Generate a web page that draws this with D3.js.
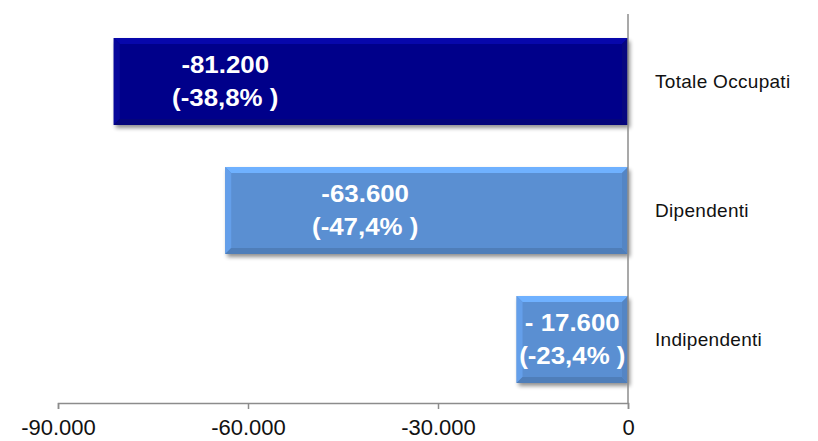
<!DOCTYPE html>
<html>
<head>
<meta charset="utf-8">
<script src="https://cdn.jsdelivr.net/npm/d3@7"></script>
<style>
	body { margin: 0; background: #fff; }
	svg { display: block; font-family: "Liberation Sans", Arial, sans-serif; }
</style>
</head>
<body>
<svg id="chart" width="818" height="441"></svg>
<script>

// data
var categories = ["Totale Occupati", "Dipendenti", "Indipendenti"];
var values = [-81200, -63600, -17600];
var valueLabels = ["-81.200", "-63.600", "- 17.600"];
var percentLabels = ["(-38,8% )", "(-47,4% )", "(-23,4% )"];
var tickValues = [-90000, -60000, -30000, 0];
var tickLabels = ["-90.000", "-60.000", "-30.000", "0"];

// layout
var barColors = ["#06068a", "#5a8fd2"];
var labelCenters = [-63600, -41500, null];	// null -> middle of bar

var svg = d3.select("#chart");

var x = d3.scaleLinear()
	.domain([-90000, 0])
	.range([58, 628]);

var y = d3.scaleBand()
	.domain(categories)
	.range([17, 404])
	.paddingInner(0.326)
	.paddingOuter(0.163);

var defs = svg.append("defs");
var shadow = defs.append("filter")
	.attr("id", "shadow")
	.attr("x", "-10%").attr("y", "-10%")
	.attr("width", "130%").attr("height", "140%");
shadow.append("feGaussianBlur").attr("in", "SourceAlpha").attr("stdDeviation", 2.2);
shadow.append("feOffset").attr("dx", 2).attr("dy", 3).attr("result", "blur");
shadow.append("feComponentTransfer").append("feFuncA").attr("type", "linear").attr("slope", 0.45);
var merge = shadow.append("feMerge");
merge.append("feMergeNode");
merge.append("feMergeNode").attr("in", "SourceGraphic");

// bars with a bevel
var bars = svg.selectAll("g.bar")
	.data(categories)
	.enter()
	.append("g")
		.attr("class", "bar");

bars.each(function(d, i){
	var g = d3.select(this);
	var x0 = x(values[i]);
	var x1 = x(0);
	var y0 = y(d);
	var h = y.bandwidth();
	var b = 6;
	var base = d3.color(i == 0 ? barColors[0] : barColors[1]);

	g.append("rect")
		.attr("x", x0).attr("y", y0)
		.attr("width", x1 - x0).attr("height", h)
		.attr("fill", base)
		.attr("filter", "url(#shadow)");

	// top edge
	g.append("polygon")
		.attr("points", [[x0, y0], [x1, y0], [x1 - b, y0 + b], [x0 + b, y0 + b]].join(" "))
		.attr("fill", base.brighter(0.6));
	// left edge
	g.append("polygon")
		.attr("points", [[x0, y0], [x0 + b, y0 + b], [x0 + b, y0 + h - b], [x0, y0 + h]].join(" "))
		.attr("fill", base.brighter(0.3));
	// bottom edge
	g.append("polygon")
		.attr("points", [[x0, y0 + h], [x0 + b, y0 + h - b], [x1 - b, y0 + h - b], [x1, y0 + h]].join(" "))
		.attr("fill", base.darker(0.35));
	// right edge
	g.append("polygon")
		.attr("points", [[x1, y0], [x1, y0 + h], [x1 - b, y0 + h - b], [x1 - b, y0 + b]].join(" "))
		.attr("fill", base.darker(0.2));

	var cx = labelCenters[i] == null ? (x0 + x1) / 2 : x(labelCenters[i]);
	var lines = [valueLabels[i], percentLabels[i]];
	var offsets = [-8.5, 24.5];
	lines.forEach(function(line, k){
		g.append("text")
			.attr("transform", "translate(" + cx + "," + (y0 + h / 2 + offsets[k]) + ") scale(1.1,1)")
			.attr("text-anchor", "middle")
			.attr("fill", "#fff")
			.attr("font-weight", "bold")
			.attr("font-size", 23.5)
			.text(line);
	});
});

// category labels
svg.selectAll("text.cat")
	.data(categories)
	.enter()
	.append("text")
		.attr("class", "cat")
		.attr("x", 655)
		.attr("y", function(d){ return y(d) + y.bandwidth() / 2 + 6; })
		.attr("font-size", 19)
		.attr("letter-spacing", 0.3)
		.attr("fill", "#111")
		.text(function(d){ return d; });

// axes
var xAxis = d3.axisBottom(x)
	.tickValues(tickValues)
	.tickSize(6)
	.tickFormat(function(d, i){ return tickLabels[i]; });

var ax = svg.append("g")
	.attr("transform", "translate(0,403)")
	.call(xAxis);
ax.select(".domain").attr("stroke", "#8c8c8c").attr("stroke-width", 1.5);
ax.selectAll(".tick line").attr("stroke", "#8c8c8c").attr("stroke-width", 1.5);
ax.selectAll(".tick text")
	.attr("font-family", "Liberation Sans, Arial, sans-serif")
	.attr("font-size", 22)
	.attr("fill", "#111")
	.attr("y", 32)
	.attr("dy", 0);

svg.append("line")
	.attr("x1", x(0)).attr("x2", x(0))
	.attr("y1", 14).attr("y2", 403)
	.attr("stroke", "#8c8c8c")
	.attr("stroke-width", 1.5);

</script>
</body>
</html>
